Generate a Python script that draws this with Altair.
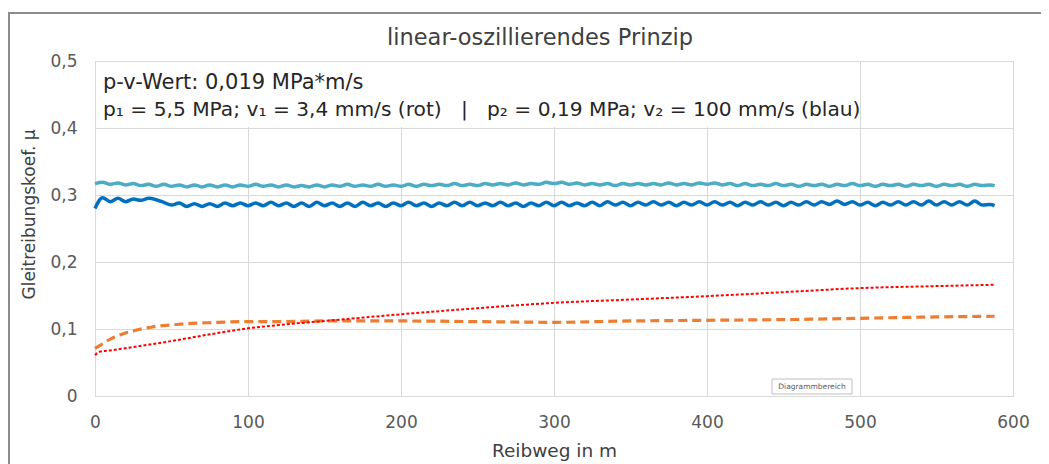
import altair as alt
import pandas as pd

# ---- data ----
x_fine = [0, 5, 10, 15, 20, 25, 30, 35, 40, 45, 50, 55, 60, 65, 70, 75, 80, 85, 90, 95,
          100, 105, 110, 115, 120, 125, 130, 135, 140, 145, 150, 155, 160, 165, 170, 175, 180, 185, 190, 195,
          200, 205, 210, 215, 220, 225, 230, 235, 240, 245, 250, 255, 260, 265, 270, 275, 280, 285, 290, 295,
          300, 305, 310, 315, 320, 325, 330, 335, 340, 345, 350, 355, 360, 365, 370, 375, 380, 385, 390, 395,
          400, 405, 410, 415, 420, 425, 430, 435, 440, 445, 450, 455, 460, 465, 470, 475, 480, 485, 490, 495,
          500, 505, 510, 515, 520, 525, 530, 535, 540, 545, 550, 555, 560, 565, 570, 575, 580, 585, 588]

teal = [0.317, 0.319, 0.316, 0.318, 0.315, 0.317, 0.314, 0.316, 0.313, 0.316, 0.313, 0.315, 0.312, 0.315, 0.312, 0.315, 0.312, 0.315, 0.312, 0.315,
        0.313, 0.316, 0.313, 0.315, 0.312, 0.315, 0.312, 0.314, 0.312, 0.315, 0.312, 0.315, 0.313, 0.316, 0.313, 0.315, 0.313, 0.316, 0.313, 0.315,
        0.313, 0.316, 0.313, 0.316, 0.314, 0.316, 0.314, 0.317, 0.314, 0.316, 0.314, 0.317, 0.315, 0.317, 0.315, 0.318, 0.315, 0.317, 0.316, 0.319,
        0.317, 0.319, 0.316, 0.318, 0.315, 0.317, 0.315, 0.317, 0.314, 0.317, 0.315, 0.317, 0.315, 0.317, 0.315, 0.318, 0.315, 0.317, 0.315, 0.318,
        0.316, 0.318, 0.315, 0.317, 0.314, 0.317, 0.314, 0.316, 0.314, 0.317, 0.314, 0.316, 0.313, 0.316, 0.314, 0.316, 0.313, 0.316, 0.314, 0.317,
        0.314, 0.316, 0.313, 0.316, 0.314, 0.316, 0.313, 0.316, 0.314, 0.316, 0.313, 0.316, 0.314, 0.316, 0.313, 0.316, 0.314, 0.315, 0.314]

blue = [0.280, 0.296, 0.290, 0.295, 0.290, 0.294, 0.292, 0.295, 0.293, 0.289, 0.285, 0.288, 0.283, 0.287, 0.283, 0.287, 0.283, 0.288, 0.284, 0.288,
        0.284, 0.288, 0.284, 0.289, 0.284, 0.288, 0.283, 0.288, 0.283, 0.289, 0.284, 0.288, 0.283, 0.288, 0.283, 0.289, 0.284, 0.288, 0.283, 0.288,
        0.284, 0.289, 0.284, 0.288, 0.283, 0.288, 0.284, 0.289, 0.284, 0.289, 0.284, 0.288, 0.284, 0.289, 0.284, 0.288, 0.283, 0.288, 0.284, 0.289,
        0.284, 0.289, 0.284, 0.288, 0.284, 0.289, 0.284, 0.290, 0.285, 0.289, 0.284, 0.289, 0.285, 0.290, 0.285, 0.289, 0.284, 0.289, 0.285, 0.290,
        0.285, 0.290, 0.285, 0.289, 0.284, 0.289, 0.285, 0.290, 0.285, 0.289, 0.284, 0.289, 0.285, 0.290, 0.285, 0.290, 0.286, 0.291, 0.286, 0.290,
        0.285, 0.289, 0.284, 0.289, 0.285, 0.290, 0.285, 0.290, 0.285, 0.291, 0.285, 0.290, 0.285, 0.290, 0.285, 0.291, 0.285, 0.286, 0.284]

x_orange = [0, 5, 10, 15, 20, 25, 30, 35, 40, 50, 60, 70, 80, 100, 120, 150, 200, 250, 300, 350, 400, 450, 500, 550, 588]
orange = [0.071, 0.078, 0.085, 0.090, 0.094, 0.097, 0.100, 0.102, 0.104, 0.106, 0.108, 0.109, 0.110, 0.111, 0.111,
          0.112, 0.112, 0.111, 0.110, 0.112, 0.113, 0.114, 0.116, 0.118, 0.119]

x_red = [0, 3, 10, 25, 50, 75, 100, 125, 150, 175, 200, 250, 300, 350, 400, 450, 500, 550, 588]
red = [0.061, 0.066, 0.068, 0.073, 0.082, 0.092, 0.101, 0.107, 0.112, 0.117, 0.122, 0.131, 0.139, 0.144,
       0.149, 0.155, 0.161, 0.164, 0.166]

x_ticks = [0, 100, 200, 300, 400, 500, 600]
y_ticks = [0, 0.1, 0.2, 0.3, 0.4, 0.5]

title_text = "linear-oszillierendes Prinzip"
note1 = "p-v-Wert: 0,019 MPa*m/s"
note2 = "p\u2081 = 5,5 MPa; v\u2081 = 3,4 mm/s (rot)\u00a0\u00a0\u00a0|\u00a0\u00a0\u00a0p\u2082 = 0,19 MPa; v\u2082 = 100 mm/s (blau)"

FONT = "DejaVu Sans"
W, H = 918, 335

df_teal = pd.DataFrame({"x": x_fine, "y": teal})
df_blue = pd.DataFrame({"x": x_fine, "y": blue})
df_orange = pd.DataFrame({"x": x_orange, "y": orange})
df_red = pd.DataFrame({"x": x_red, "y": red})

xs = alt.Scale(domain=[0, 600], nice=False)
ys = alt.Scale(domain=[0, 0.5], nice=False)

xax = alt.Axis(values=x_ticks, grid=True, ticks=False, labelPadding=18, labelFontSize=17,
               labelColor="#595959", labelFont=FONT, title="Reibweg in m", titleFont=FONT,
               titleFontSize=18.5, titleFontWeight="normal", titleColor="#404040", titlePadding=11,
               domainColor="#d9d9d9", gridColor="#d9d9d9", labelFlush=False)
yax = alt.Axis(values=y_ticks, grid=True, ticks=False, labelPadding=18, labelFontSize=17,
               labelColor="#595959", labelFont=FONT, title="Gleitreibungskoef. µ", titleFont=FONT,
               titleFontSize=17, titleFontWeight="normal", titleColor="#404040",
               labelExpr="replace(format(datum.value, '.1~f'), '.', ',')",
               domain=False, gridColor="#d9d9d9", titleX=-66, titleY=153, titleBaseline="middle",
               titleAnchor="middle")

base_enc = dict(x=alt.X("x:Q", scale=xs, axis=xax), y=alt.Y("y:Q", scale=ys, axis=yax))

frame = alt.Chart(pd.DataFrame({"a": [0]})).mark_rule(color="#8c8c8c", strokeWidth=2)
frame_top = frame.encode(x=alt.value(-87), x2=alt.value(W + 40), y=alt.value(-48))
frame_left = frame.encode(x=alt.value(-86), y=alt.value(-48), y2=alt.value(H + 80))

box = alt.Chart(pd.DataFrame({"a": [0]})).mark_rect(color="white").encode(
    x=alt.value(1.5), x2=alt.value(765), y=alt.value(1), y2=alt.value(66))

title = alt.Chart(pd.DataFrame({"t": [title_text]})).mark_text(
    align="center", baseline="alphabetic", font=FONT, fontSize=22.5, color="#404040").encode(
    text="t:N", x=alt.value(445), y=alt.value(-16))
t1 = alt.Chart(pd.DataFrame({"t": [note1]})).mark_text(
    align="left", baseline="alphabetic", font=FONT, fontSize=21, color="#262626").encode(
    text="t:N", x=alt.value(8), y=alt.value(28))
t2 = alt.Chart(pd.DataFrame({"t": [note2]})).mark_text(
    align="left", baseline="alphabetic", font=FONT, fontSize=20.2, color="#262626").encode(
    text="t:N", x=alt.value(8), y=alt.value(55))

line_style = dict(interpolate="monotone")
l_teal = alt.Chart(df_teal).mark_line(color="#4bacc6", strokeWidth=3.5, **line_style).encode(**base_enc)
l_blue = alt.Chart(df_blue).mark_line(color="#0070c0", strokeWidth=3.5, **line_style).encode(**base_enc)
l_orange = alt.Chart(df_orange).mark_line(color="#ed7d31", strokeWidth=3.2, strokeDash=[9, 5], **line_style).encode(**base_enc)
l_red = alt.Chart(df_red).mark_line(color="#ff0000", strokeWidth=2, strokeDash=[3, 2], **line_style).encode(**base_enc)

tip_box = alt.Chart(pd.DataFrame({"a": [0]})).mark_rect(fill="white", stroke="#bfbfbf", strokeWidth=1).encode(
    x=alt.value(677), x2=alt.value(757), y=alt.value(318), y2=alt.value(333))
tip_text = alt.Chart(pd.DataFrame({"t": ["Diagrammbereich"]})).mark_text(
    align="center", baseline="middle", font=FONT, fontSize=7.5, color="#595959").encode(
    text="t:N", x=alt.value(717), y=alt.value(325.5))

chart = alt.layer(frame_top, frame_left, title, l_teal, box, t1, t2, l_blue, l_orange, l_red,
                  tip_box, tip_text).properties(
    width=W, height=H,
    padding={"left": 87, "top": 53, "right": 28, "bottom": 72},
    autosize=alt.AutoSizeParams(type="none"),
).configure_view(stroke=None).configure(background="white")

chart.save("out.html", embed_options={"renderer": "svg", "actions": False})
